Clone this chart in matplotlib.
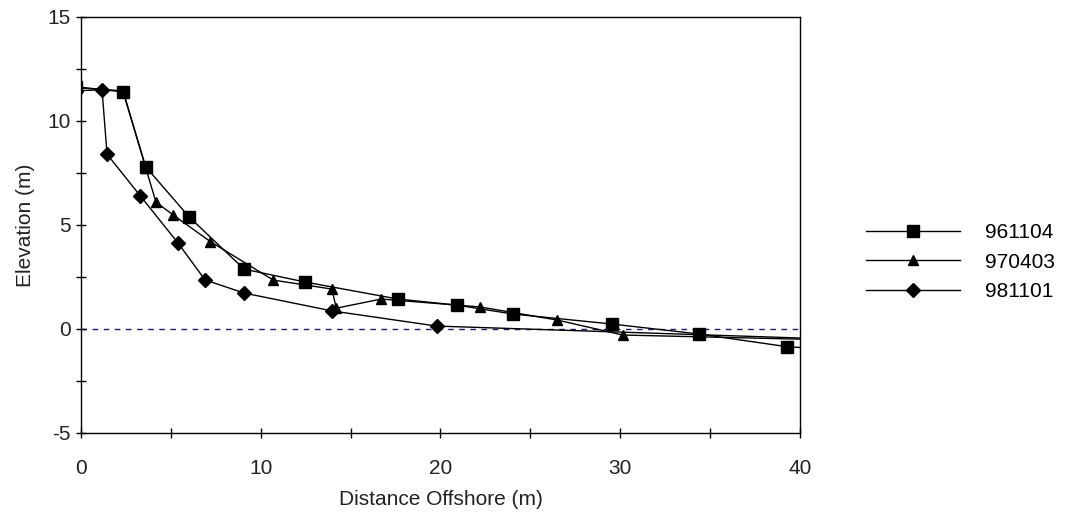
import matplotlib
matplotlib.use("Agg")
import matplotlib.pyplot as plt
from matplotlib.ticker import MultipleLocator

plt.rcParams['font.family'] = ['Liberation Sans', 'DejaVu Sans']
plt.rcParams['axes.unicode_minus'] = False

# Survey 961104 (squares)
x_961104 = [-0.3, 2.34, 3.6, 6.0, 9.07, 12.46, 17.63, 20.91, 24.03, 29.53, 34.37, 39.27, 40.6]
y_961104 = [11.65, 11.4, 7.8, 5.4, 2.88, 2.26, 1.44, 1.15, 0.72, 0.24, -0.24, -0.85, -0.92]

# Survey 970403 (triangles)
x_970403 = [-0.3, 2.34, 3.6, 4.17, 5.1, 7.2, 10.7, 13.96, 14.2, 16.7, 22.2, 26.5, 30.14, 40.6]
y_970403 = [11.6, 11.45, 7.75, 6.1, 5.5, 4.2, 2.35, 1.92, 1.0, 1.44, 1.06, 0.43, -0.29, -0.5]

# Survey 981101 (diamonds)
x_981101 = [-0.3, 1.17, 1.45, 3.3, 5.4, 6.9, 9.07, 13.96, 19.8, 40.6]
y_981101 = [11.45, 11.5, 8.4, 6.4, 4.13, 2.36, 1.73, 0.87, 0.14, -0.45]

labels = ['961104', '970403', '981101']

fig = plt.figure(figsize=(10.71, 5.19), dpi=100)
ax = fig.add_axes([81/1071, 1-433/519, (800-81)/1071, (433-17)/519])

ax.axhline(0, color='#1a1a6e', lw=1.0, ls=(0, (4, 4)), zorder=1)

ax.plot(x_961104, y_961104, color='black', lw=1.0, marker='s', ms=8, label=labels[0], zorder=3)
ax.plot(x_970403, y_970403, color='black', lw=1.0, marker='^', ms=7, label=labels[1], zorder=3)
ax.plot(x_981101, y_981101, color='black', lw=1.0, marker='D', ms=7, label=labels[2], zorder=3)

ax.set_xlim(0, 40)
ax.set_ylim(-5, 15)
ax.xaxis.set_major_locator(MultipleLocator(10))
ax.xaxis.set_minor_locator(MultipleLocator(5))
ax.yaxis.set_major_locator(MultipleLocator(5))
ax.yaxis.set_minor_locator(MultipleLocator(2.5))
ax.tick_params(which='both', direction='inout', length=7, width=1, colors='black',
               labelsize=15, labelcolor='#222222')
ax.tick_params(axis='x', pad=15)
ax.tick_params(axis='y', pad=4)
for s in ax.spines.values():
    s.set_linewidth(1.0)

ax.set_xlabel('Distance Offshore (m)', fontsize=15, color='#222222', labelpad=9)
ax.set_ylabel('Elevation (m)', fontsize=15, color='#222222', labelpad=9)

fig.legend(loc='center left', bbox_to_anchor=(866/1071, 1-262/519), frameon=False,
           fontsize=15, handlelength=4.5, handletextpad=1.2, labelspacing=0.5,
           borderpad=0, borderaxespad=0)

fig.savefig('out.png', dpi=100)
